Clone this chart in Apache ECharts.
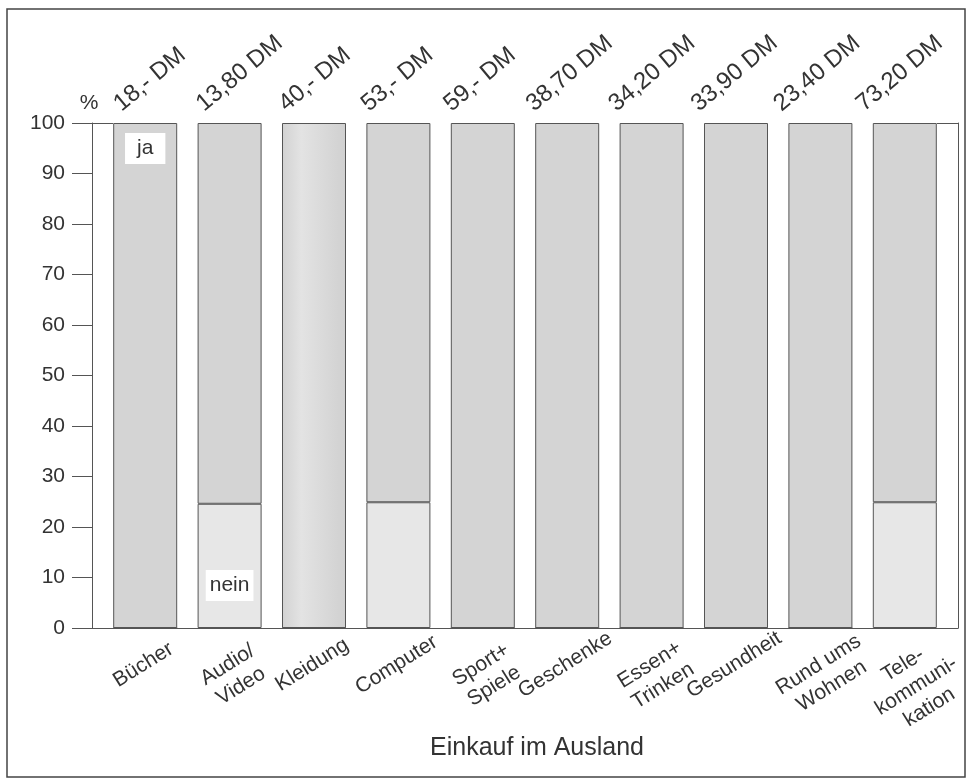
<!DOCTYPE html>
<html>
<head>
<meta charset="utf-8">
<script src="https://cdn.jsdelivr.net/npm/echarts@6/dist/echarts.min.js"></script>
<style>
html,body{margin:0;padding:0;background:#fff;}
#chart{width:973px;height:784px;}
</style>
</head>
<body>
<div id="chart"></div>
<script>
// ---- data ----
var categories = ['Bücher', 'Audio/\nVideo', 'Kleidung', 'Computer', 'Sport+\nSpiele', 'Geschenke', 'Essen+\nTrinken', 'Gesundheit', 'Rund ums\nWohnen', 'Tele-\nkommuni-\nkation'];
var prices = ['18,- DM', '13,80 DM', '40,- DM', '53,- DM', '59,- DM', '38,70 DM', '34,20 DM', '33,90 DM', '23,40 DM', '73,20 DM'];
var neinValues = [0, 24.6, 0, 24.9, 0, 0, 0, 0, 0, 24.9];
var jaValues = [100, 75.4, 100, 75.1, 100, 100, 100, 100, 100, 75.1];
var yTicks = [0, 100, 10];
var xTitle = 'Einkauf im Ausland';
var yName = '%';

var FONT = '"Liberation Sans", Arial, sans-serif';
var TXT = '#333';
var LINE = '#555';
var JA = '#d4d4d4';
var NEIN = '#e7e7e7';

var chart = echarts.init(document.getElementById('chart'), null, {renderer: 'canvas'});

var jaData = jaValues.map(function (v, i) {
  var item = {value: v};
  if (i === 0) {
    item.label = {show: true, formatter: 'ja', position: 'insideTop', distance: 10,
      backgroundColor: '#fff', padding: [5, 12, 5, 12], fontSize: 21, color: TXT, fontFamily: FONT};
  }
  if (i === 2) {
    item.itemStyle = {color: new echarts.graphic.LinearGradient(0, 0, 1, 0, [
      {offset: 0, color: '#d2d2d2'}, {offset: 0.3, color: '#e3e3e3'}, {offset: 1, color: '#d0d0d0'}])};
  }
  return item;
});
var neinData = neinValues.map(function (v, i) {
  var item = {value: v};
  if (i === 1) {
    item.label = {show: true, formatter: 'nein', position: 'insideBottom', distance: 27,
      backgroundColor: '#fff', padding: [5, 4, 5, 4], fontSize: 21, color: TXT, fontFamily: FONT};
  }
  return item;
});

var option = {
  animation: false,
  backgroundColor: '#fff',
  textStyle: {fontFamily: FONT},
  grid: [
    {left: 103, right: 26, top: 123, bottom: 156, outerBoundsMode: 'none', containLabel: false},
    {left: 92, right: 15, top: 123, bottom: 156, outerBoundsMode: 'none', containLabel: false},
    {left: 76, right: 72, top: 123, bottom: 156, outerBoundsMode: 'none', containLabel: false}
  ],
  xAxis: [
    {
      type: 'category', gridIndex: 0, data: categories,
      axisLine: {show: true, lineStyle: {color: LINE, width: 1}},
      axisTick: {show: false},
      axisLabel: {interval: 0, rotate: 32, align: 'center', verticalAlign: 'top', margin: 21,
        padding: [0, 20, 0, 0], fontSize: 21, lineHeight: 25, color: TXT, fontFamily: FONT, hideOverlap: false}
    },
    {
      type: 'category', gridIndex: 1, data: categories.map(function () { return ''; }),
      axisLine: {show: true, lineStyle: {color: LINE, width: 1}},
      axisTick: {show: false}, axisLabel: {show: false}
    },
    {
      type: 'category', gridIndex: 2, position: 'top', data: prices,
      axisLine: {show: false}, axisTick: {show: false},
      axisLabel: {interval: 0, rotate: 40, margin: 16, fontSize: 24, color: TXT, fontFamily: FONT, hideOverlap: false}
    }
  ],
  yAxis: [
    {
      type: 'value', gridIndex: 0, min: yTicks[0], max: yTicks[1], interval: yTicks[2], offset: 11,
      name: yName, nameLocation: 'end', nameGap: 9,
      nameTextStyle: {fontSize: 21, color: TXT, fontFamily: FONT, padding: [0, 6, 0, 0]},
      axisLine: {show: true, lineStyle: {color: LINE, width: 1}},
      axisTick: {show: true, inside: false, length: 20, lineStyle: {color: LINE, width: 1}},
      axisLabel: {margin: 27, fontSize: 21, color: TXT, fontFamily: FONT},
      splitLine: {show: false}
    },
    {
      type: 'value', gridIndex: 1, position: 'right', min: 0, max: 100,
      axisLine: {show: true, lineStyle: {color: LINE, width: 1}},
      axisTick: {show: false}, axisLabel: {show: false}, splitLine: {show: false}
    },
    {
      type: 'value', gridIndex: 2, min: 0, max: 100, show: false
    }
  ],
  series: [
    {
      name: 'nein', type: 'bar', stack: 'total', xAxisIndex: 0, yAxisIndex: 0,
      barWidth: 64, data: neinData,
      itemStyle: {color: NEIN, borderColor: LINE, borderWidth: 1}
    },
    {
      name: 'ja', type: 'bar', stack: 'total', xAxisIndex: 0, yAxisIndex: 0,
      barWidth: 64, data: jaData,
      itemStyle: {color: JA, borderColor: LINE, borderWidth: 1}
    }
  ],
  graphic: [
    {type: 'rect', shape: {x: 7, y: 9, width: 958, height: 768},
      style: {fill: 'none', stroke: '#444', lineWidth: 1.5}, silent: true, z: 100},
    {type: 'line', shape: {x1: 92, y1: 123.5, x2: 113, y2: 123.5}, style: {stroke: LINE, lineWidth: 1}, z: 100},
    {type: 'line', shape: {x1: 937, y1: 123.5, x2: 958, y2: 123.5}, style: {stroke: LINE, lineWidth: 1}, z: 100},
    {type: 'text', x: 537, y: 748, style: {text: xTitle, textAlign: 'center', textVerticalAlign: 'middle',
      fontSize: 25, fill: TXT, fontFamily: FONT}, z: 100}
  ]
};
chart.setOption(option);
</script>
</body>
</html>
